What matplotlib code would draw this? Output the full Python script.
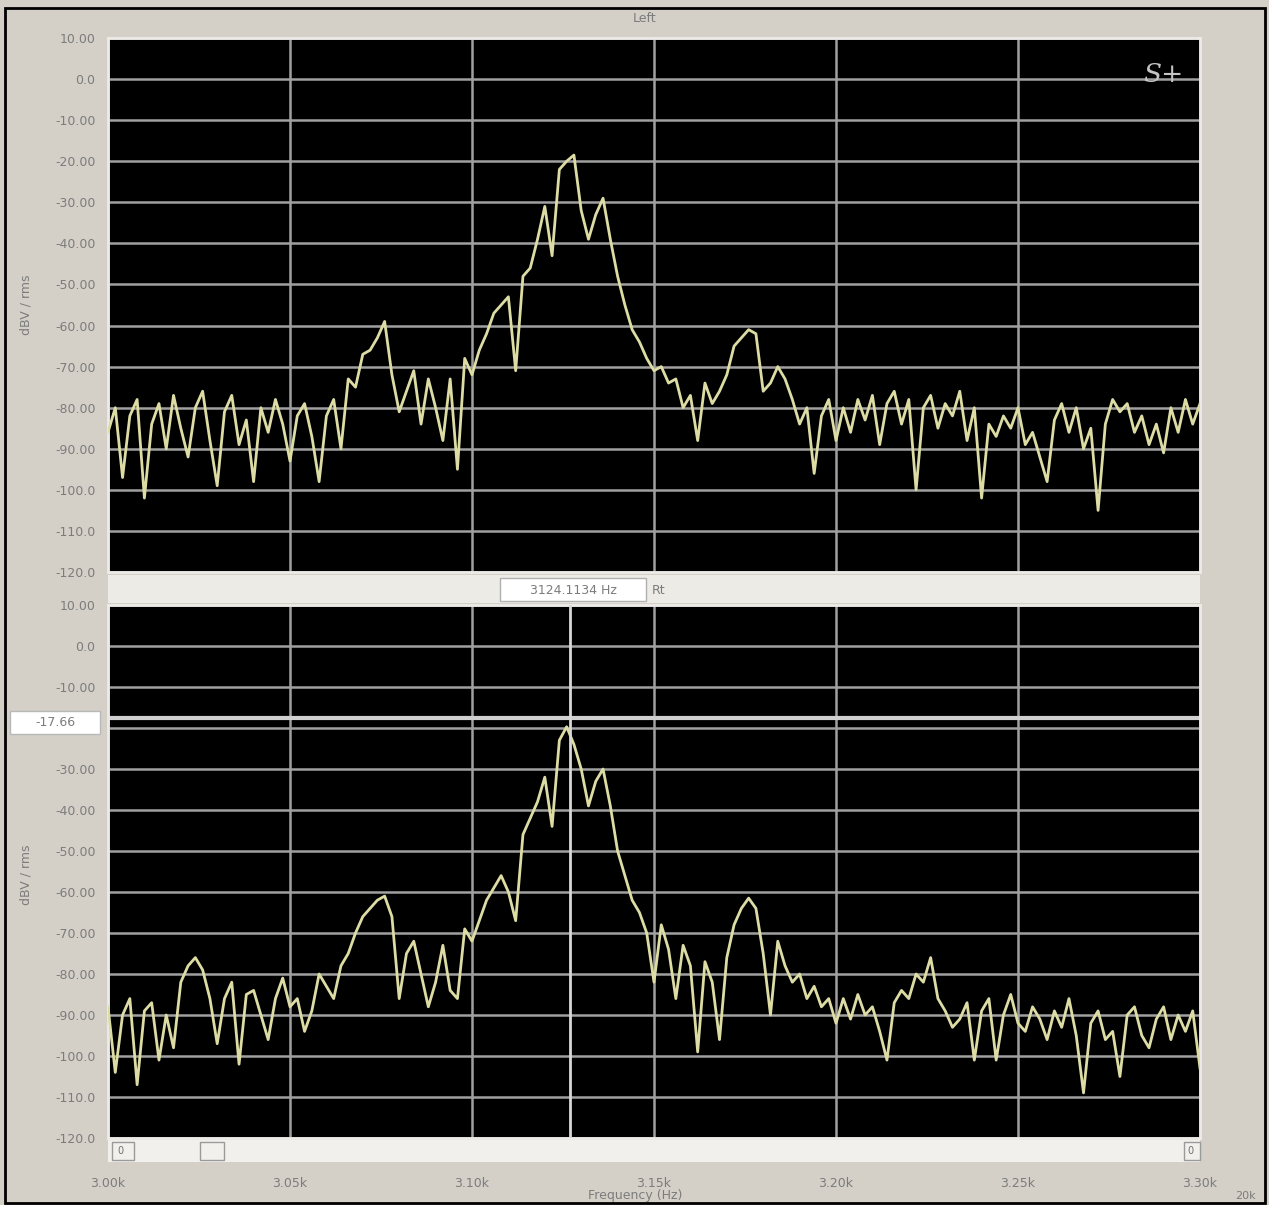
import numpy as np
import matplotlib.pyplot as plt
from matplotlib.patches import Rectangle

# spectrum traces, one value every 2 Hz from 3000 to 3300 Hz
left_db = [
    -86, -80, -97, -82, -78, -102, -84, -79, -90, -77,
    -85, -92, -80, -76, -88, -99, -81, -77, -89, -83,
    -98, -80, -86, -78, -84, -93, -82, -79, -87, -98,
    -82, -78, -90, -73, -75, -67, -66, -63, -59, -72,
    -81, -76, -71, -84, -73, -80, -88, -73, -95, -68,
    -72, -66, -62, -57, -55, -53, -71, -48, -46, -39,
    -31, -43, -22, -20, -18.5, -32, -39, -33, -29, -39,
    -48, -55, -61, -64, -68, -71, -70, -74, -73, -80,
    -77, -88, -74, -79, -76, -72, -65, -63, -61, -62,
    -76, -74, -70, -73, -78, -84, -80, -96, -82, -78,
    -88, -80, -86, -78, -83, -77, -89, -79, -76, -84,
    -78, -100, -80, -77, -85, -79, -82, -76, -88, -80,
    -102, -84, -87, -82, -85, -80, -89, -86, -92, -98,
    -83, -79, -86, -80, -90, -85, -105, -84, -78, -81,
    -79, -86, -82, -89, -84, -91, -80, -86, -78, -84,
    -79,
]
right_db = [
    -88, -104, -90, -86, -107, -89, -87, -101, -90, -98,
    -82, -78, -76, -79, -86, -97, -86, -82, -102, -85,
    -84, -90, -96, -86, -81, -88, -86, -94, -89, -80,
    -83, -86, -78, -75, -70, -66, -64, -62, -61, -66,
    -86, -75, -72, -80, -88, -82, -73, -84, -86, -69,
    -72, -67, -62, -59, -56, -60, -67, -46, -42, -38,
    -32, -44, -23, -19.7, -24, -30, -39, -33, -30, -39,
    -50, -56, -62, -65, -70, -82, -68, -74, -86, -73,
    -78, -99, -77, -82, -96, -76, -68, -64, -61.5, -64,
    -75, -90, -72, -78, -82, -80, -86, -83, -88, -86,
    -92, -86, -91, -85, -90, -88, -94, -101, -87, -84,
    -86, -80, -82, -76, -86, -89, -93, -91, -87, -101,
    -89, -86, -101, -90, -85, -92, -94, -88, -91, -96,
    -89, -93, -86, -95, -109, -92, -89, -96, -94, -105,
    -90, -88, -95, -98, -91, -88, -96, -90, -94, -89,
    -103,
]
freq = np.arange(3000, 3301, 2)

x_ticks = [3000, 3050, 3100, 3150, 3200, 3250, 3300]
x_labels = ['3.00k', '3.05k', '3.10k', '3.15k', '3.20k', '3.25k', '3.30k']
y_ticks = list(range(10, -121, -10))
y_labels = ['10.00', '0.0', '-10.00', '-20.00', '-30.00', '-40.00', '-50.00',
            '-60.00', '-70.00', '-80.00', '-90.00', '-100.0', '-110.0', '-120.0']

cursor_hz = 3127.0
cursor_db = -17.66
cursor_text = '3124.1134 Hz'

W, H = 1269, 1205
bg = '#d4d0c8'
trace = '#dcdca4'
txt = '#7c7c7c'

fig = plt.figure(figsize=(W / 100, H / 100), dpi=100, facecolor=bg)


def box(x0, y0, x1, y1, **kw):
    # rectangle in pixel coords of the screenshot (y down)
    fig.add_artist(Rectangle((x0 / W, 1 - y1 / H), (x1 - x0) / W, (y1 - y0) / H,
                             transform=fig.transFigure, **kw))


def ftext(x, y, s, **kw):
    fig.text(x / W, 1 - y / H, s, **kw)


ax1 = fig.add_axes([108 / W, 1 - 572 / H, 1092 / W, 534 / H])
ax2 = fig.add_axes([108 / W, 1 - 1138 / H, 1092 / W, 533 / H])

for ax, vals in [(ax1, left_db), (ax2, right_db)]:
    ax.set_facecolor('black')
    ax.plot(freq, vals, color=trace, lw=2.0, zorder=3)
    ax.set_xlim(3000, 3300)
    ax.set_ylim(-120, 10)
    ax.set_xticks(x_ticks)
    ax.set_yticks(y_ticks)
    ax.set_yticklabels(y_labels)
    ax.grid(True, color='#a0a0a0', lw=1.8, zorder=1)
    ax.tick_params(length=0, labelsize=9, labelcolor=txt, pad=9)
    for s in ax.spines.values():
        s.set_color('#ecebe8')
        s.set_linewidth(2)

ax1.set_xticklabels([])
ax2.set_xticklabels(x_labels)
ax2.tick_params(axis='x', pad=28)
ax2.get_yticklabels()[3].set_visible(False)

# cursor lines on the lower trace
ax2.axvline(cursor_hz, color='#d8d8d8', lw=2, zorder=4)
ax2.axhline(cursor_db, color='#d0d0d0', lw=3, zorder=2)

# S+ logo
ax1.text(0.985, 0.955, 'S+', transform=ax1.transAxes, ha='right', va='top',
         family='DejaVu Serif', style='italic', fontsize=19, color='#c4c4c4')

# strip between the two panels with the cursor readout
box(108, 575, 1200, 603, facecolor='#ecebe6', edgecolor='none')
box(500, 578, 646, 601, facecolor='white', edgecolor='#b0b0b0', lw=1)
ftext(573, 590, cursor_text, ha='center', va='center', fontsize=9, color=txt)
ftext(652, 590, 'Rt', ha='left', va='center', fontsize=9, color=txt)

# cursor value box on the left
box(10, 711, 100, 734, facecolor='white', edgecolor='#b8b8b8', lw=1)
ftext(55, 722, '-17.66', ha='center', va='center', fontsize=9, color=txt)

# scroll strip under the lower panel
box(108, 1140, 1200, 1162, facecolor='#f1f0ed', edgecolor='none')
ftext(120, 1151, '0', ha='center', va='center', fontsize=7, color='#707070')
box(112, 1142, 134, 1160, facecolor='none', edgecolor='#9a9a9a', lw=1)
box(200, 1142, 224, 1160, facecolor='none', edgecolor='#9a9a9a', lw=1)
ftext(1190, 1151, '0', ha='center', va='center', fontsize=7, color='#707070')
box(1184, 1142, 1200, 1160, facecolor='none', edgecolor='#9a9a9a', lw=1)

# titles and axis labels
ftext(645, 18, 'Left', ha='center', va='center', fontsize=9, color=txt)
ftext(635, 1196, 'Frequency (Hz)', ha='center', va='center', fontsize=9, color=txt)
ftext(1245, 1196, '20k', ha='center', va='center', fontsize=8, color=txt)
ftext(26, 305, 'dBV / rms', ha='center', va='center', rotation=90, fontsize=9, color=txt)
ftext(26, 875, 'dBV / rms', ha='center', va='center', rotation=90, fontsize=9, color=txt)

# outer frame
box(5, 8, 1265, 1203, facecolor='none', edgecolor='black', lw=2)

fig.savefig('out.png', dpi=100, facecolor=bg)
